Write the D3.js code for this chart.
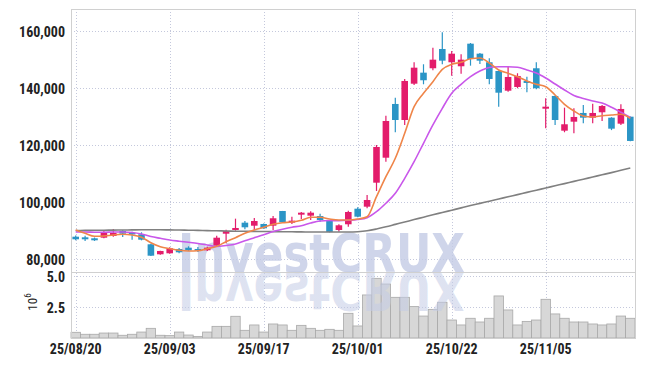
<!DOCTYPE html>
<html>
<head>
<meta charset="utf-8">
<script src="https://cdn.jsdelivr.net/npm/d3@7/dist/d3.min.js"></script>
<style>
	body{margin:0;background:#fff;}
	.tick text, .lbl{font-family:"Liberation Sans Narrow","Roboto Condensed","DejaVu Sans Condensed",Roboto,sans-serif;fill:#222;}
</style>
</head>
<body>
<script>
// trading days shown on the chart
var dates = ["25/08/20","25/08/21","25/08/22","25/08/25","25/08/26","25/08/27","25/08/28","25/08/29",
	"25/09/01","25/09/02","25/09/03","25/09/04","25/09/05","25/09/08","25/09/09","25/09/10","25/09/11","25/09/12",
	"25/09/15","25/09/16","25/09/17","25/09/18","25/09/19","25/09/22","25/09/23","25/09/24","25/09/25","25/09/26",
	"25/09/29","25/09/30","25/10/01","25/10/02","25/10/10","25/10/13","25/10/14","25/10/15","25/10/16","25/10/17",
	"25/10/20","25/10/21","25/10/22","25/10/23","25/10/24","25/10/27","25/10/28","25/10/29","25/10/30","25/10/31",
	"25/11/03","25/11/04","25/11/05","25/11/06","25/11/07","25/11/10","25/11/11","25/11/12","25/11/13","25/11/14",
	"25/11/17","25/11/18"];
var dateTicks = ["25/08/20","25/09/03","25/09/17","25/10/01","25/10/22","25/11/05"];

var opens = [87980,87770,87420,87630,88230,89980,89280,88820,85320,81820,
	82170,83680,84130,83680,83220,84830,89030,90330,92890,91830,
	92430,91830,96980,92890,95690,95340,95230,93590,90330,92330,
	97790,98490,106890,115640,134450,128840,141550,145410,146950,153700,
	149050,147650,155560,152060,149050,146000,139100,140400,142500,146950,
	132800,137250,125100,128250,131300,129650,131540,129650,127550,130000];
var highs = [88400,88330,87700,89980,90680,90200,89720,89520,85500,83100,
	84270,84030,84620,84330,84480,88330,90400,94290,93480,94530,
	92600,95230,97000,94990,96630,96880,96040,93700,92330,97090,
	98280,102580,120090,130350,136650,143200,149050,148350,154160,159550,
	153000,151850,155800,152300,150500,146200,147500,145200,144000,149050,
	136450,137400,133150,132950,134100,134550,134100,129800,134350,130100];
var lows = [86700,86480,86500,87400,88000,87880,86930,86700,81200,81700,
	82000,82170,82980,82630,83000,84620,85670,90100,90570,90330,
	90800,90330,92900,92430,94180,93830,93240,89500,89730,91480,
	94780,97930,103990,114240,124540,127090,141100,141340,146250,148350,
	144360,145060,147860,148450,141340,133500,138750,139950,138550,139600,
	125950,127090,124540,124190,127690,127690,128490,125300,127090,121400];
var closes = [87070,87070,86720,89520,89280,89030,88820,86930,81330,82980,
	83920,82520,83220,83220,84130,87630,89980,91030,91270,93480,
	90920,94430,93030,93590,96390,96390,93830,89630,91970,96630,
	94990,100830,119390,128490,128840,142500,147160,142750,149960,149610,
	152060,149960,150200,149610,143200,138400,143900,144250,141800,139950,
	133500,128840,127340,129900,129650,131300,133750,125800,132700,121500];
// volume in millions of shares
var volumes = [0.46,0.30,0.30,0.40,0.40,0.22,0.30,0.48,0.78,0.22,
	0.19,0.48,0.24,0.13,0.48,0.94,0.94,1.75,0.62,1.05,
	0.48,1.13,1.05,0.62,1.02,0.78,0.62,0.70,0.62,1.99,
	0.97,3.47,4.81,4.35,3.28,3.28,2.53,1.77,2.31,2.88,
	1.45,1.05,1.59,1.29,1.59,3.39,2.26,1.05,1.34,1.45,
	3.12,1.94,1.59,1.29,1.29,1.13,1.05,1.13,1.77,1.59];
// moving averages as drawn
var maShort = [90330,89170,88120,88230,88580,88820,88580,87770,85880,84480,
	83780,83220,82980,83080,83780,84620,86230,87630,89170,90330,
	91270,92320,92880,93130,93720,94770,94770,94180,93830,93830,
	94180,94980,101990,108990,115430,124180,133490,138190,142250,146590,
	148340,149040,150300,150540,148800,146340,145190,144000,142490,141340,
	140500,137590,134340,131990,130240,129890,130340,130590,130830,129430];
var maMid = [89630,89630,89520,89520,89630,89630,89450,88930,88050,87420,
	86830,86410,86020,85600,85080,84550,84900,85430,86580,87630,
	88680,89800,90570,91270,91830,92780,93480,93650,93580,93720,
	94000,94630,96730,99680,103180,108430,114240,120680,127090,132930,
	138190,141340,144000,145990,147220,147500,147500,147290,146340,145290,
	143540,141440,139340,137420,136370,135490,134790,133290,131530,129710];
var maLong = [90150,90190,90220,90260,90290,90330,90360,90400,90400,90400,
	90360,90330,90260,90190,90120,90050,89980,89910,89870,89840,
	89800,89770,89730,89700,89660,89630,89630,89630,89630,89630,
	89730,90050,90680,91450,92290,93130,93970,94810,95650,96450,
	97260,98070,98870,99640,100410,101180,101950,102720,103490,104260,
	105030,105800,106570,107340,108110,108880,109650,110420,111230,112030];

var priceTicks = [80000,100000,120000,140000,160000];
var volumeTicks = [2.5,5.0];

function chart(){
	var svgW = 645, svgH = 366, left = 71, right = 635, top = 9, mid = 272, bottom = 338;
	var upColor = '#e31c6b', downColor = '#2b95c6', gridColor = '#c4c8dc';

	var svg = d3.select("body").append("svg").attr("width", svgW).attr("height", svgH);

	var x = d3.scaleBand().domain(dates).range([left, right]).padding(0);
	var bw = x.bandwidth(), cw = bw*0.7;
	var y = d3.scaleLinear().domain([75620, 167700]).range([mid, top]);
	var yv = d3.scaleLinear().domain([0, 5.32]).range([bottom, mid]);
	var cx = function(i){ return x(dates[i]) + bw/2; };

	// grid
	var grid = svg.append('g').attr('stroke', gridColor).attr('stroke-dasharray', '1,2').attr('stroke-width', 1);
	grid.selectAll('.gv').data(dateTicks).enter().append('line')
		.attr('x1', function(d){ return Math.round(x(d)+bw/2)+0.5; }).attr('x2', function(d){ return Math.round(x(d)+bw/2)+0.5; })
		.attr('y1', top).attr('y2', bottom);
	grid.selectAll('.gp').data(priceTicks).enter().append('line')
		.attr('x1', left).attr('x2', right)
		.attr('y1', function(d){ return Math.round(y(d))+0.5; }).attr('y2', function(d){ return Math.round(y(d))+0.5; });
	grid.selectAll('.gq').data(volumeTicks).enter().append('line')
		.attr('x1', left).attr('x2', right)
		.attr('y1', function(d){ return Math.round(yv(d))+0.5; }).attr('y2', function(d){ return Math.round(yv(d))+0.5; });

	// volume bars
	svg.append('g').selectAll('rect').data(volumes).enter().append('rect')
		.attr('x', function(d,i){ return x(dates[i]); }).attr('width', bw)
		.attr('y', function(d){ return yv(d); }).attr('height', function(d){ return bottom - yv(d); })
		.attr('fill', '#d7d7d7').attr('stroke', '#a8a8a8').attr('stroke-width', 0.8);

	// watermark and its reflection
	var defs = svg.append('defs');
	var grad = defs.append('linearGradient').attr('id', 'fade').attr('gradientUnits', 'userSpaceOnUse')
		.attr('x1', 0).attr('y1', mid).attr('x2', 0).attr('y2', mid + 40);
	grad.append('stop').attr('offset', 0).attr('stop-color', '#c3cbe5').attr('stop-opacity', 0.55);
	grad.append('stop').attr('offset', 1).attr('stop-color', '#c3cbe5').attr('stop-opacity', 0.08);
	var mark = svg.append('g');
	mark.append('text').attr('x', 178).attr('y', mid)
		.attr('font-family', 'DejaVu Sans, sans-serif').attr('font-weight', 'bold').attr('font-size', 53)
		.attr('textLength', 287).attr('lengthAdjust', 'spacingAndGlyphs')
		.attr('fill', '#c3cbe5').attr('fill-opacity', 0.8).text('InvestCRUX');
	mark.append('text').attr('x', 178).attr('y', mid)
		.attr('transform', 'translate(0,' + (2*mid) + ') scale(1,-1)')
		.attr('font-family', 'DejaVu Sans, sans-serif').attr('font-weight', 'bold').attr('font-size', 53)
		.attr('textLength', 287).attr('lengthAdjust', 'spacingAndGlyphs')
		.attr('fill', 'url(#fade)').text('InvestCRUX');

	// candles
	var candles = svg.append('g').selectAll('g').data(dates).enter().append('g')
		.attr('fill', function(d,i){ return closes[i] >= opens[i] ? upColor : downColor; })
		.attr('stroke', function(d,i){ return closes[i] >= opens[i] ? upColor : downColor; });
	candles.append('line')
		.attr('x1', function(d,i){ return cx(i); }).attr('x2', function(d,i){ return cx(i); })
		.attr('y1', function(d,i){ return y(highs[i]); }).attr('y2', function(d,i){ return y(lows[i]); })
		.attr('stroke-width', 1.2);
	candles.append('rect')
		.attr('x', function(d,i){ return cx(i) - cw/2; }).attr('width', cw)
		.attr('y', function(d,i){ return y(Math.max(opens[i], closes[i])); })
		.attr('height', function(d,i){ return Math.max(1.5, Math.abs(y(opens[i]) - y(closes[i]))); })
		.attr('stroke', 'none');

	// moving average lines
	var line = d3.line().x(function(d,i){ return cx(i); }).y(function(d){ return y(d); }).curve(d3.curveMonotoneX);
	[[maLong,'#808080',1.6],[maMid,'#c957ea',1.6],[maShort,'#ef8549',1.6]].forEach(function(s){
		svg.append('path').attr('d', line(s[0])).attr('fill', 'none').attr('stroke', s[1]).attr('stroke-width', s[2]);
	});

	// panel frames
	svg.append('rect').attr('x', left+0.5).attr('y', top+0.5).attr('width', right-left).attr('height', mid-top)
		.attr('fill', 'none').attr('stroke', '#d0d0d0');
	svg.append('rect').attr('x', left+0.5).attr('y', mid+0.5).attr('width', right-left).attr('height', bottom-mid)
		.attr('fill', 'none').attr('stroke', '#d0d0d0');

	// axes
	var ya = svg.append('g').attr('transform', 'translate(' + left + ',0)')
		.call(d3.axisLeft(y).tickValues(priceTicks).tickSize(0).tickPadding(6).tickFormat(d3.format(',')));
	var va = svg.append('g').attr('transform', 'translate(' + left + ',0)')
		.call(d3.axisLeft(yv).tickValues(volumeTicks).tickSize(0).tickPadding(6).tickFormat(d3.format('.1f')));
	var xa = svg.append('g').attr('transform', 'translate(0,' + bottom + ')')
		.call(d3.axisBottom(x).tickValues(dateTicks).tickSize(0).tickPadding(6));
	[ya, va, xa].forEach(function(a){
		a.select('.domain').remove();
		a.selectAll('text').attr('font-size', 14).attr('font-weight', 'bold').attr('fill', '#222').attr('font-family', null);
	});
	ya.selectAll('text').attr('dy', '0.38em');
	va.selectAll('text').attr('dy', '0.38em');

	// volume unit label
	var u = svg.append('text').attr('class', 'lbl').attr('transform', 'translate(37,302) rotate(-90)')
		.attr('text-anchor', 'middle').attr('font-size', 13);
	u.append('tspan').text('10');
	u.append('tspan').attr('dy', -6).attr('font-size', 9).text('6');
}
chart();
</script>
</body>
</html>
